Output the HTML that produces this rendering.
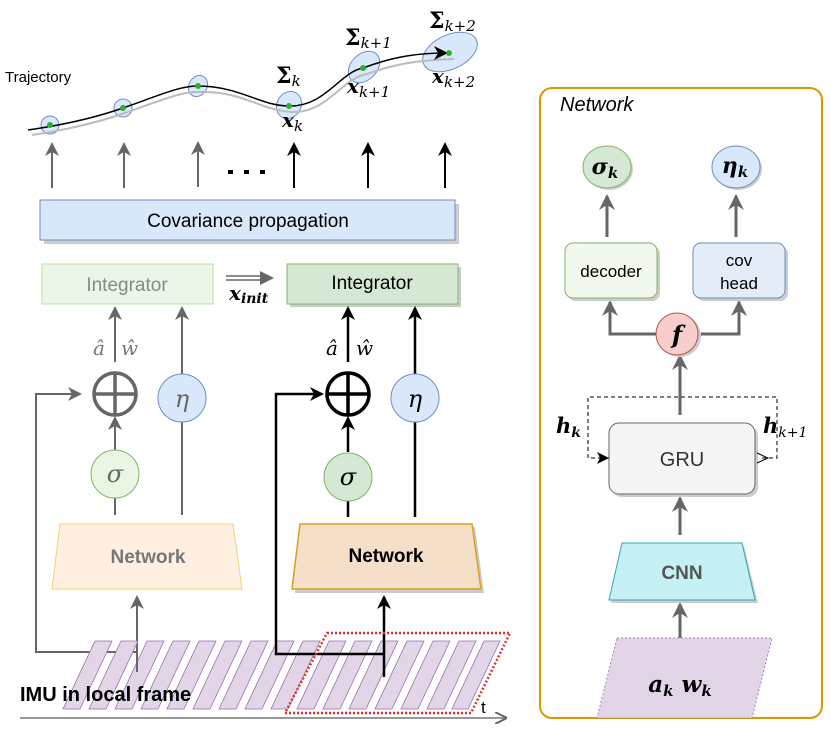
<!DOCTYPE html>
<html><head><meta charset="utf-8"><style>
body{margin:0;background:#fff}
svg{display:block}
text{font-family:"Liberation Sans",sans-serif}
.m{font-family:"DejaVu Serif","Liberation Serif",serif;font-style:italic}
.s{font-family:"DejaVu Serif","Liberation Serif",serif}
</style></head><body>
<svg width="831" height="729" viewBox="0 0 831 729" xmlns="http://www.w3.org/2000/svg">
<defs>
<marker id="ag" markerWidth="14" markerHeight="14" refX="12" refY="7" orient="auto" markerUnits="userSpaceOnUse"><path d="M0,0 L14,7 L0,14 L4,7z" fill="#666"/></marker>
<marker id="ab" markerWidth="14" markerHeight="14" refX="12" refY="7" orient="auto" markerUnits="userSpaceOnUse"><path d="M0,0 L14,7 L0,14 L4,7z" fill="#000"/></marker>
<marker id="ag2" markerWidth="16" markerHeight="16" refX="14" refY="8" orient="auto" markerUnits="userSpaceOnUse"><path d="M0,0 L16,8 L0,16 L5,8z" fill="#666"/></marker>
<marker id="ao" markerWidth="12" markerHeight="12" refX="10" refY="6" orient="auto" markerUnits="userSpaceOnUse"><path d="M0,0 L12,6 L0,12" fill="none" stroke="#666" stroke-width="2"/></marker>
</defs>

<!-- trajectory -->
<g fill="#dae8fc" stroke="#6c8ebf" stroke-width="1">
<ellipse cx="50" cy="125" rx="9" ry="9"/>
<ellipse cx="123" cy="108" rx="9" ry="9" transform="rotate(-30 123 108)"/>
<ellipse cx="198" cy="86" rx="9" ry="11" transform="rotate(30 198 86)"/>
<ellipse cx="289" cy="105" rx="12" ry="14" transform="rotate(30 289 105)"/>
<ellipse cx="364" cy="67" rx="13" ry="18" transform="rotate(45 364 67)"/>
<ellipse cx="450" cy="52" rx="29" ry="17" transform="rotate(-25 450 52)"/>
</g>
<path d="M30,132 C70,126 100,118 123,110 C160,97 180,88 199,89 C240,88 260,108 291,109 C325,110 340,75 365,71 C395,60 420,57 452,56" fill="none" stroke="#bbb" stroke-width="2" transform="translate(2,3)"/>
<path d="M28,130 C70,124 100,116 123,108 C160,95 180,86 197,86 C240,86 260,106 289,106 C325,107 340,72 363,68 C395,56 420,53 446,53" fill="none" stroke="#000" stroke-width="1.5" marker-end="url(#ab)"/>
<g fill="#3a3">
<circle cx="50" cy="125" r="3"/><circle cx="123" cy="108" r="3"/><circle cx="198" cy="86" r="3"/><circle cx="289" cy="106" r="3"/><circle cx="363" cy="68" r="3"/><circle cx="449" cy="53" r="3"/>
</g>
<text x="5" y="82" font-size="15">Trajectory</text>
<text x="276" y="83" font-size="22" class="s" font-weight="bold">Σ<tspan font-size="15" dy="3" class="m" font-weight="normal">k</tspan></text>
<text x="282" y="127" font-size="20" class="m" font-weight="bold">x<tspan font-size="15" dy="4" font-weight="normal">k</tspan></text>
<text x="345" y="45" font-size="22" class="s" font-weight="bold">Σ<tspan font-size="15" dy="3" class="m" font-weight="normal">k+1</tspan></text>
<text x="347" y="93" font-size="20" class="m" font-weight="bold">x<tspan font-size="15" dy="4" font-weight="normal">k+1</tspan></text>
<text x="429" y="28" font-size="22" class="s" font-weight="bold">Σ<tspan font-size="15" dy="3" class="m" font-weight="normal">k+2</tspan></text>
<text x="432" y="83" font-size="20" class="m" font-weight="bold">x<tspan font-size="15" dy="4" font-weight="normal">k+2</tspan></text>

<!-- arrows up -->
<g stroke-width="2">
<line x1="52" y1="188" x2="52" y2="144" stroke="#666" marker-end="url(#ag)"/>
<line x1="124" y1="188" x2="124" y2="144" stroke="#666" marker-end="url(#ag)"/>
<line x1="198" y1="187" x2="198" y2="143" stroke="#666" marker-end="url(#ag)"/>
<line x1="294" y1="188" x2="294" y2="144" stroke="#000" marker-end="url(#ab)"/>
<line x1="368" y1="188" x2="368" y2="144" stroke="#000" marker-end="url(#ab)"/>
<line x1="445" y1="188" x2="445" y2="144" stroke="#000" marker-end="url(#ab)"/>
</g>
<g fill="#000"><rect x="228" y="170" width="5" height="4"/><rect x="244" y="170" width="5" height="4"/><rect x="260" y="170" width="5" height="4"/></g>

<!-- covariance -->
<rect x="44" y="204" width="415" height="40" fill="#ccc"/>
<rect x="40" y="200" width="415" height="40" fill="#dae8fc" stroke="#6c8ebf"/>
<text x="248" y="227" font-size="19" text-anchor="middle">Covariance propagation</text>

<!-- integrators -->
<rect x="42" y="264" width="171" height="40" fill="#ebf5e8" stroke="#b9e0a5"/>
<text x="127" y="291" font-size="19" text-anchor="middle" fill="#888">Integrator</text>
<rect x="290" y="267" width="171" height="40" fill="#ccc"/>
<rect x="287" y="264" width="171" height="40" fill="#d5e8d4" stroke="#82b366"/>
<text x="372" y="289" font-size="19" text-anchor="middle">Integrator</text>
<line x1="226" y1="276" x2="266" y2="276" stroke="#666" stroke-width="1.5"/>
<line x1="226" y1="280" x2="266" y2="280" stroke="#666" stroke-width="1.5"/>
<path d="M260,271 L274,278 L260,285z" fill="#666"/>
<text x="229" y="300" font-size="20" class="m" font-weight="bold">x<tspan font-size="14" dy="3">init</tspan></text>

<!-- left column -->
<g stroke="#666" stroke-width="2" fill="none">
<line x1="115" y1="362" x2="115" y2="308" marker-end="url(#ag)"/>
<line x1="182" y1="374" x2="182" y2="308" marker-end="url(#ag)"/>
<line x1="182" y1="422" x2="182" y2="515"/>
<line x1="115" y1="450" x2="115" y2="418" marker-end="url(#ag)"/>
<line x1="115" y1="498" x2="115" y2="515"/>
<line x1="137" y1="672" x2="137" y2="597" marker-end="url(#ag)"/>
<polyline points="137,652 36,652 36,394 80,394" marker-end="url(#ag)"/>
</g>
<circle cx="115" cy="394" r="21" fill="none" stroke="#666" stroke-width="3.5"/>
<line x1="94" y1="394" x2="136" y2="394" stroke="#666" stroke-width="3.5"/>
<line x1="115" y1="373" x2="115" y2="415" stroke="#666" stroke-width="3.5"/>
<text x="93" y="355" font-size="20" class="m" fill="#777">â</text>
<text x="121" y="355" font-size="20" class="m" fill="#777">ŵ</text>
<circle cx="182" cy="398" r="24" fill="#dae8fc" stroke="#6c8ebf"/>
<text x="182" y="407" font-size="24" class="m" fill="#666" text-anchor="middle">η</text>
<circle cx="115" cy="474" r="24" fill="#eaf6e4" stroke="#82b366"/>
<text x="115" y="482" font-size="24" class="m" fill="#666" text-anchor="middle">σ</text>
<polygon points="60,524 233,524 242,589 52,589" fill="#fff0e2" stroke="#f3cf78"/>
<text x="148" y="563" font-size="19" font-weight="bold" fill="#777" text-anchor="middle">Network</text>

<!-- right column -->
<g stroke="#000" stroke-width="2.5" fill="none">
<line x1="348" y1="362" x2="348" y2="308" marker-end="url(#ab)"/>
<line x1="415" y1="374" x2="415" y2="308" marker-end="url(#ab)"/>
<line x1="415" y1="422" x2="415" y2="517"/>
<line x1="348" y1="452" x2="348" y2="418" marker-end="url(#ab)"/>
<line x1="348" y1="500" x2="348" y2="517"/>
</g>
<circle cx="348" cy="394" r="21" fill="none" stroke="#000" stroke-width="3.5"/>
<line x1="327" y1="394" x2="369" y2="394" stroke="#000" stroke-width="3.5"/>
<line x1="348" y1="373" x2="348" y2="415" stroke="#000" stroke-width="3.5"/>
<text x="326" y="355" font-size="20" class="m">â</text>
<text x="356" y="355" font-size="20" class="m">ŵ</text>
<circle cx="415" cy="398" r="24" fill="#dae8fc" stroke="#6c8ebf"/>
<text x="415" y="407" font-size="24" class="m" text-anchor="middle">η</text>
<circle cx="348" cy="477" r="24" fill="#d5e8d4" stroke="#82b366"/>
<text x="348" y="485" font-size="24" class="m" text-anchor="middle">σ</text>
<polygon points="303,527 475,527 484,593 295,593" fill="#ccc"/>
<polygon points="300,524 472,524 481,589 292,589" fill="#f5dfc9" stroke="#d6a020" stroke-width="1.5"/>
<text x="386" y="562" font-size="19" font-weight="bold" text-anchor="middle">Network</text>

<!-- IMU stripes -->
<g fill="#e1d5e7" stroke="#9673a6" stroke-width="0.8">
<polygon points="95,641 112,641 80,709 63,709"/>
<polygon points="121,641 138,641 106,709 89,709"/>
<polygon points="147,641 164,641 132,709 115,709"/>
<polygon points="173,641 190,641 158,709 141,709"/>
<polygon points="199,641 216,641 184,709 167,709"/>
<polygon points="225,641 242,641 210,709 193,709"/>
<polygon points="251,641 268,641 236,709 219,709"/>
<polygon points="277,641 294,641 262,709 245,709"/>
<polygon points="303,641 320,641 288,709 271,709"/>
<polygon points="329,641 346,641 314,709 297,709"/>
<polygon points="355,641 372,641 340,709 323,709"/>
<polygon points="381,641 398,641 366,709 349,709"/>
<polygon points="407,641 424,641 392,709 375,709"/>
<polygon points="433,641 450,641 418,709 401,709"/>
<polygon points="459,641 476,641 444,709 427,709"/>
<polygon points="484,641 500,641 468,709 452,709"/>
</g>
<g stroke="#000" stroke-width="2.5" fill="none">
<line x1="384" y1="677" x2="384" y2="597" marker-end="url(#ab)"/>
<polyline points="384,654 276,654 276,394 322,394" marker-end="url(#ab)"/>
</g>
<line x1="137" y1="652" x2="137" y2="672" stroke="#666" stroke-width="2"/>
<polygon points="327,633 510,633 471,713 285,713" fill="none" stroke="#e03030" stroke-width="2.5" stroke-dasharray="2,2"/>
<text x="20" y="701" font-size="20" font-weight="bold">IMU in local frame</text>
<line x1="20" y1="718" x2="505" y2="718" stroke="#777" stroke-width="1.5" marker-end="url(#ao)"/>
<text x="481" y="713" font-size="17">t</text>

<!-- right panel -->
<rect x="540" y="88" width="282" height="630" rx="12" fill="none" stroke="#d79b00" stroke-width="2"/>
<text x="560" y="111" font-size="20" font-style="italic">Network</text>
<ellipse cx="609" cy="169" rx="24" ry="21" fill="#ccc"/>
<ellipse cx="607" cy="167" rx="24" ry="21" fill="#d5e8d4" stroke="#82b366"/>
<text x="605" y="174" font-size="22" class="m" font-weight="bold" text-anchor="middle">σ<tspan font-size="15" dy="4">k</tspan></text>
<ellipse cx="738" cy="169" rx="24" ry="21" fill="#ccc"/>
<ellipse cx="736" cy="167" rx="24" ry="21" fill="#dae8fc" stroke="#6c8ebf"/>
<text x="735" y="173" font-size="22" class="m" font-weight="bold" text-anchor="middle">η<tspan font-size="15" dy="4">k</tspan></text>
<g stroke="#666" stroke-width="3" fill="none">
<line x1="607" y1="237" x2="607" y2="196" marker-end="url(#ag2)"/>
<line x1="736" y1="237" x2="736" y2="196" marker-end="url(#ag2)"/>
<polyline points="659,334 610,334 610,302" marker-end="url(#ag2)"/>
<polyline points="701,334 739,334 739,302" marker-end="url(#ag2)"/>
<line x1="680" y1="415" x2="680" y2="356" marker-end="url(#ag2)"/>
<line x1="680" y1="535" x2="680" y2="498" marker-end="url(#ag2)"/>
<line x1="680" y1="695" x2="680" y2="604" marker-end="url(#ag2)"/>
</g>
<rect x="568" y="246" width="92" height="55" rx="8" fill="#ccc"/>
<rect x="565" y="243" width="92" height="55" rx="8" fill="#f1f8ee" stroke="#82b366"/>
<text x="611" y="277" font-size="17" text-anchor="middle">decoder</text>
<rect x="696" y="246" width="92" height="55" rx="8" fill="#ccc"/>
<rect x="693" y="243" width="92" height="55" rx="8" fill="#e4ecf7" stroke="#6c8ebf"/>
<text x="739" y="266" font-size="17" text-anchor="middle">cov</text>
<text x="739" y="289" font-size="17" text-anchor="middle">head</text>
<circle cx="680" cy="336" r="21" fill="#ccc"/>
<circle cx="677" cy="334" r="21" fill="#f8cecc" stroke="#b85450"/>
<text x="677" y="343" font-size="24" class="m" font-weight="bold" text-anchor="middle">f</text>
<rect x="612" y="426" width="146" height="71" rx="10" fill="#ccc"/>
<rect x="609" y="423" width="146" height="71" rx="10" fill="#f5f5f5" stroke="#666"/>
<text x="682" y="466" font-size="20" text-anchor="middle" fill="#333">GRU</text>
<polyline points="609,458 588,458 588,397 777,397 777,458 760,458" fill="none" stroke="#000" stroke-dasharray="4,3"/>
<path d="M597,452 L609,458 L597,464 L600,458z" fill="#000"/>
<path d="M757,453 L768,458 L757,463" fill="none" stroke="#000"/>
<text x="556" y="433" font-size="21" class="m" font-weight="bold">h<tspan font-size="14" dy="4">k</tspan></text>
<text x="763" y="433" font-size="21" class="m" font-weight="bold">h<tspan font-size="14" dy="4" font-weight="normal">k+1</tspan></text>
<polygon points="624,546 744,546 758,603 611,603" fill="#ccc"/>
<polygon points="622,543 742,543 755,600 609,600" fill="#c6f1f4" stroke="#2ea8b0"/>
<text x="682" y="579" font-size="19" font-weight="bold" fill="#555" text-anchor="middle">CNN</text>
<polygon points="617,638 772,638 752,718 597,718" fill="#e1d5e7" stroke="#a680b8" stroke-dasharray="2,2"/>
<text x="680" y="692" font-size="23" class="m" font-weight="bold" text-anchor="middle">a<tspan font-size="15" dy="4">k</tspan><tspan dy="-4"> w</tspan><tspan font-size="15" dy="4">k</tspan></text>
</svg>
</body></html>
